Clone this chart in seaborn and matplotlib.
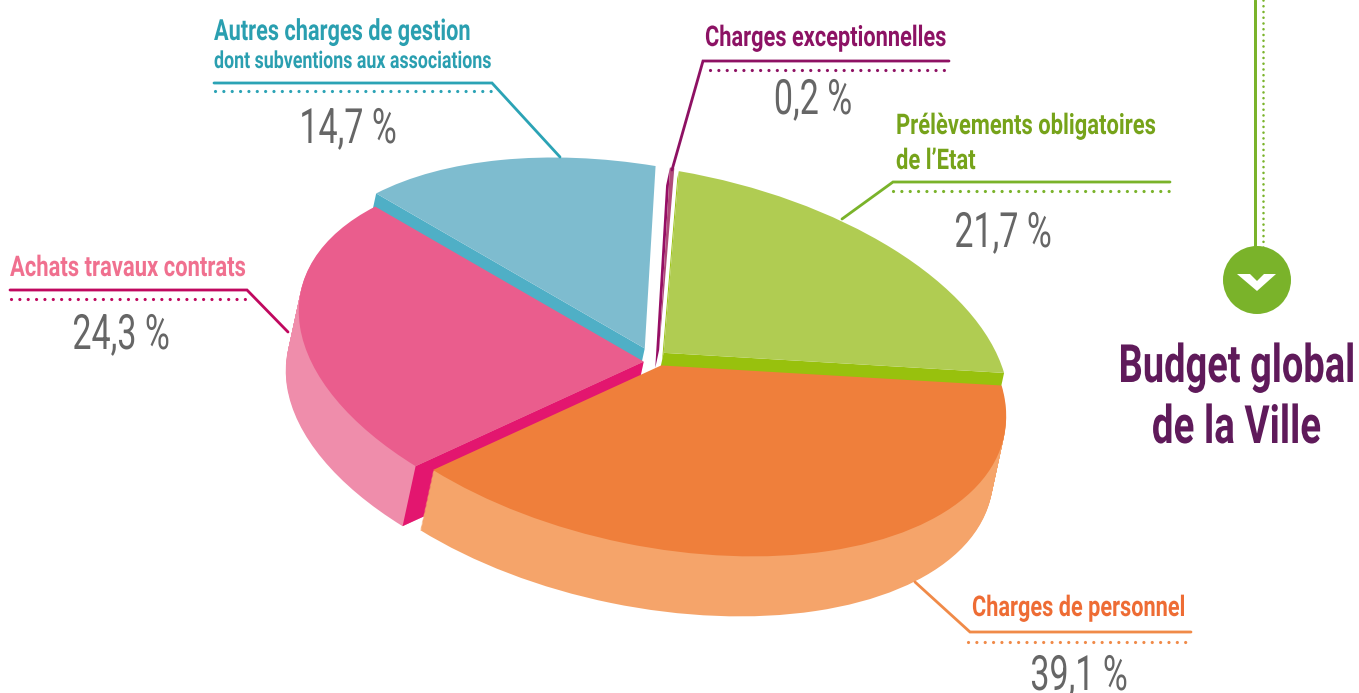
import numpy as np
import matplotlib
matplotlib.use("Agg")
import matplotlib.pyplot as plt
from matplotlib.patches import Circle
from matplotlib.patheffects import AbstractPathEffect
from matplotlib.transforms import Affine2D
import seaborn as sns

## budget shares, clockwise from the top of the pie
categories = ["Charges exceptionnelles", "Prélèvements obligatoires", "Charges de personnel",
              "Achats travaux contrats", "Autres charges de gestion"]
shares = [0.2, 21.7, 39.1, 24.3, 14.7]
share_labels = ["0,2 %", "21,7 %", "39,1 %", "24,3 %", "14,7 %"]

top_colors = ["#b04b7a", "#b0cc52", "#ef7f3b", "#ea5d8d", "#7ebccf"]
rim_colors = ["#b04b7a", "#b0cc52", "#f5a46a", "#ef8dab", "#7ebccf"]
cut_colors = ["#960e65", "#98c10d", "#ef7f3b", "#e3166f", "#4fafc6"]
explode = [0.05, 0.04, 0.04, 0.04, 0.04]
nudge = [(5, 1), (1, -1), (1, 0), (4, 5), (-3, -2)]

sns.set_theme(style="white")
plt.rcParams["font.family"] = ["Roboto", "DejaVu Sans"]

fig = plt.figure(figsize=(13.59, 6.93), dpi=100)
ax = fig.add_axes([0, 0, 1, 1])

## the pie is a circle seen tilted: this matrix flattens it into pixel space
START = 88.2
DEPTH = (-13, 60)
flatten = Affine2D(np.array([[345.0, 0.0, 653.5], [50.7, -184.1, 358.0], [0, 0, 1]]))


def draw_pie(colors, dx, dy, zorders, only=None):
    wedges, _ = ax.pie(shares, colors=colors, startangle=START, counterclock=False,
                       explode=explode, wedgeprops={"linewidth": 0})
    for i, w in enumerate(wedges):
        tr = flatten + Affine2D().translate(dx + nudge[i][0], dy + nudge[i][1]) + ax.transData
        w.set_transform(tr)
        w.set_zorder(zorders[i])
        if only is not None and i not in only:
            w.set_visible(False)


## edges of each slice in pie degrees
sweep = np.array(shares) / sum(shares) * 360
ends = START - np.cumsum(sweep)
starts = ends + sweep


def cut_face(i, angle, depth, zorder):
    mid = np.radians((starts[i] + ends[i]) / 2)
    a = np.radians(angle)
    apex = np.array([np.cos(mid), np.sin(mid)]) * explode[i]
    corner = apex + np.array([np.cos(a), np.sin(a)])
    pts = flatten.transform(np.array([apex, corner])) + np.array(nudge[i])
    off = np.array(DEPTH) * depth
    poly = np.vstack([pts, pts[::-1] + off])
    ax.fill(poly[:, 0], poly[:, 1], color=cut_colors[i], lw=0, zorder=zorder)


## back to front: teal, sliver, green, pink, orange
order_z = {4: 2, 0: 4, 1: 6, 3: 8, 2: 10}
zs = [order_z[i] for i in range(5)]

for t in np.linspace(1, 0.02, 50):
    draw_pie(rim_colors, DEPTH[0] * t, DEPTH[1] * t, zs, only=[2, 3])

cut_face(4, starts[4], 0.35, 2.5)
cut_face(0, starts[0], 0.3, 4.5)
cut_face(1, starts[1], 0.12, 6.5)
cut_face(1, ends[1], 1.0, 6.5)
cut_face(3, starts[3], 1.0, 8.5)

draw_pie(top_colors, 0, 0, [z + 0.7 for z in zs])

ax.set_aspect("auto")
ax.set_xlim(0, 1359)
ax.set_ylim(693, 0)
ax.axis("off")

## leaders: solid line then a dotted line under it
px = 0.72
leaders = [
    ([949, 703, 672], [61, 61, 170], 710, 950, 70, "#8e1163"),
    ([1170, 893, 842], [182, 182, 219], 893, 1170, 191, "#7ab32a"),
    ([1191, 970, 915], [632, 632, 582], 968, 1191, 642, "#f08a48"),
    ([10, 247, 288], [290, 290, 332], 11, 252, 299, "#c0085f"),
    ([214, 492, 560], [83, 83, 157], 215, 495, 91, "#2ba3b5"),
]
for xs, ys, x0, x1, yd, col in leaders:
    ax.plot(xs, ys, color=col, lw=2.8 * px, zorder=12, solid_joinstyle="miter")
    ax.plot([x0, x1], [yd, yd], color=col, lw=3.2 * px, ls=(0, (0.01, 2.6)),
            dash_capstyle="round", zorder=12)


## no condensed font here, so squeeze the glyphs sideways around the anchor
class Squeeze(AbstractPathEffect):
    def __init__(self, sx, x0):
        super().__init__()
        self.sx = sx
        self.x0 = x0

    def draw_path(self, renderer, gc, tpath, affine, rgbFace=None):
        squeeze = Affine2D().translate(-self.x0, 0).scale(self.sx, 1).translate(self.x0, 0)
        renderer.draw_path(gc, tpath, affine + squeeze, rgbFace)


def put_text(x, y, s, color, size, sx, ha="left", **kw):
    t = ax.text(x, y, s, color=color, fontsize=size, ha=ha, va="baseline", zorder=13, **kw)
    t.set_path_effects([Squeeze(sx, x)])
    return t


## labels
put_text(705, 46, "Charges exceptionnelles", "#8c1264", 20.5, 0.765, fontweight="bold")
put_text(896, 134, "Prélèvements obligatoires", "#76a31a", 20.5, 0.772, fontweight="bold")
put_text(896, 169, "de l’Etat", "#76a31a", 20.5, 0.772, fontweight="bold")
put_text(972, 616, "Charges de personnel", "#ee6c34", 20.5, 0.763, fontweight="bold")
put_text(10, 276, "Achats travaux contrats", "#f0708f", 20.5, 0.772, fontweight="bold")
put_text(214, 40, "Autres charges de gestion", "#2a9fb0", 21, 0.745, fontweight="bold")
put_text(214, 68, "dont subventions aux associations", "#2a9fb0", 17, 0.755, fontweight="bold")

value_pos = [(813, 114), (1003, 247), (1079, 690), (121, 349), (348, 143)]
for lab, (x, y) in zip(share_labels, value_pos):
    put_text(x, y, lab, "#666666", 35, 0.7, ha="center")

## marker and block title on the right
ax.plot([1255, 1255], [0, 250], color="#7ab32a", lw=3 * px, zorder=3)
ax.plot([1263, 1263], [0, 250], color="#7ab32a", lw=2.6 * px, ls=(0, (0.01, 2.2)),
        dash_capstyle="round", zorder=3)
ax.add_patch(Circle((1257, 280), 34, color="#7ab32a", lw=0, zorder=4))
ax.fill([1237, 1250, 1257, 1264, 1276, 1257], [274, 274, 281, 274, 274, 291],
        color="white", lw=0, zorder=5)
put_text(1355, 382, "Budget global", "#5f1a5a", 38, 0.72, ha="right", fontweight="bold")
put_text(1321, 443, "de la Ville", "#5f1a5a", 38, 0.73, ha="right", fontweight="bold")

fig.savefig("out.png", dpi=100, facecolor="white")
